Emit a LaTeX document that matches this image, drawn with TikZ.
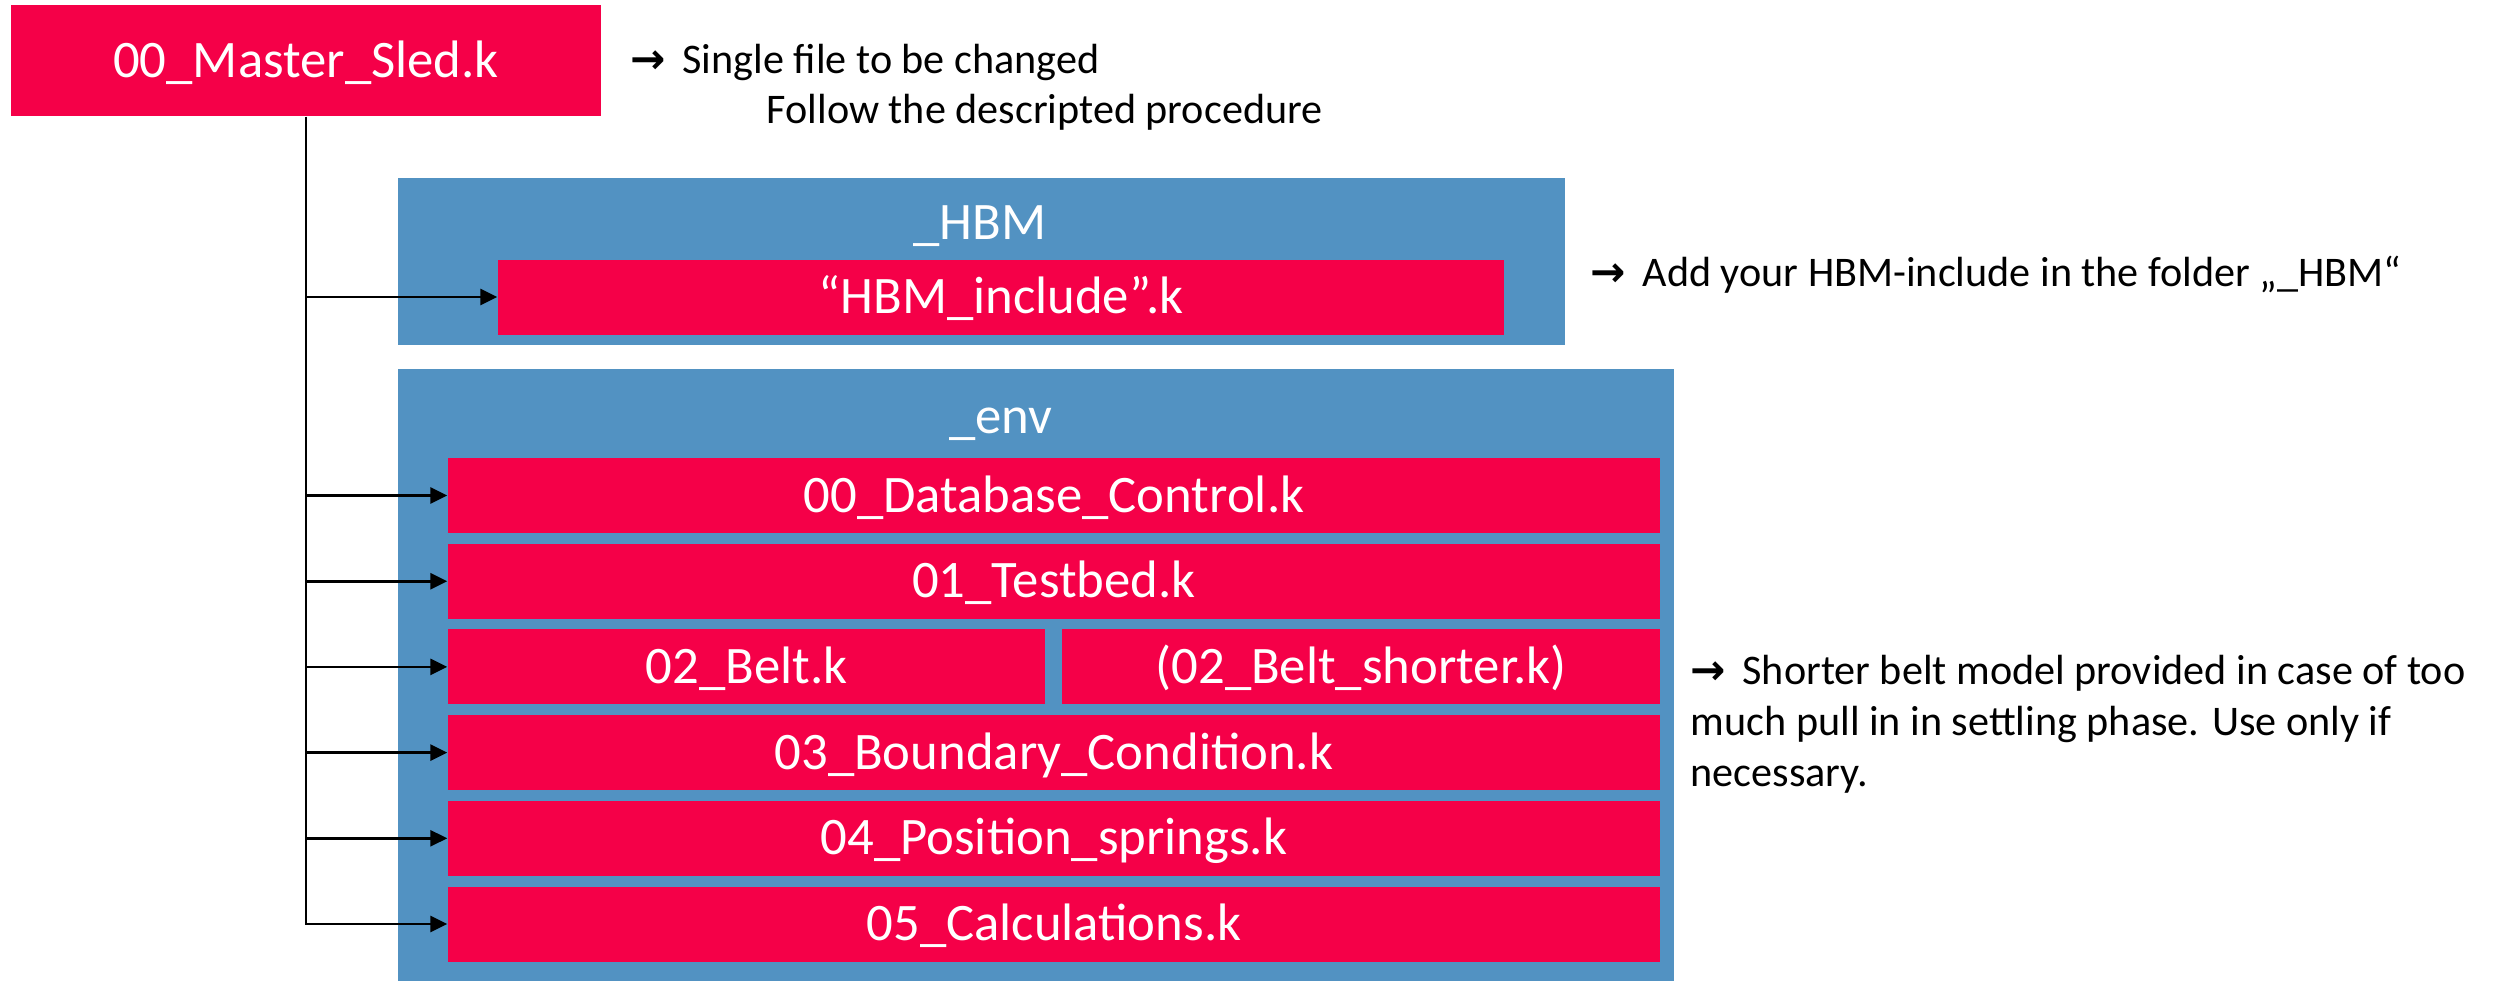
\documentclass[tikz,border=0pt]{standalone}
\usepackage{fontspec}
\setmainfont{Carlito}
\newfontfamily\arrowfont{DejaVu Sans}
\usetikzlibrary{arrows.meta,positioning}
\definecolor{sledred}{RGB}{245,0,72}
\definecolor{folderblue}{RGB}{82,146,194}

\begin{document}
\begin{tikzpicture}[
    >={Triangle[length=1.7mm,width=1.6mm]},
    folder/.style={
        fill=folderblue,
        inner sep=0pt,
    },
    file/.style={
        fill=sledred,
        text=white,
        inner sep=0pt,
        minimum height=0.75cm,
        text height=0.33cm,
        text depth=0pt,
        font=\fontsize{15}{18}\selectfont,
    },
    title/.style={
        text=white,
        inner sep=0pt,
        text height=0.33cm,
        text depth=0pt,
        font=\fontsize{15}{18}\selectfont,
    },
    note/.style={
        anchor=west,
        inner sep=0pt,
        align=left,
        font=\fontsize{12}{14.5}\selectfont,
    },
    link/.style={
        draw,
        line width=0.8pt,
        ->
    }
]
\useasboundingbox (0,0) rectangle (24.93,-9.81);

% =====================
% CARTELLE
% =====================
\node[folder, minimum width=11.67cm, minimum height=1.67cm] at (9.815,-2.615) (hbm) {};
\node[title] at (9.80,-2.23) (hbmtitle) {\_HBM};

\node[folder, minimum width=12.76cm, minimum height=6.12cm] at (10.36,-6.75) (env) {};
\node[title] at (10.01,-4.17) (envtitle) {\_env};

% =====================
% FILE
% =====================
\node[file, minimum width=5.90cm, minimum height=1.11cm] at (3.06,-0.605) (master) {00\_Master\_Sled.k};

\node[file, minimum width=10.06cm] at (10.01,-2.97) (hbminc) {“HBM\_include”.k};

\node[file, minimum width=12.12cm] at (10.54,-4.955) (r0) {00\_Database\_Control.k};
\node[file, minimum width=12.12cm] at (10.54,-5.812) (r1) {01\_Testbed.k};
\node[file, minimum width=5.97cm] at (7.465,-6.669) (r2) {02\_Belt.k};
\node[file, minimum width=5.98cm] at (13.61,-6.669) (r2b) {(02\_Belt\_shorter.k)};
\node[file, minimum width=12.12cm] at (10.54,-7.526) (r3) {03\_Boundary\_Condition.k};
\node[file, minimum width=12.12cm] at (10.54,-8.383) (r4) {04\_Position\_springs.k};
\node[file, minimum width=12.12cm] at (10.54,-9.24) (r5) {05\_Calculations.k};

% =====================
% COLLEGAMENTI
% =====================
\path[link] (master.south) |- (r5.west);
\foreach \f in {hbminc,r0,r1,r2,r3,r4}
    \path[link] (master.south |- \f.west) -- (\f.west);

% =====================
% NOTE
% =====================
\node[note] at (6.30,-0.62) (note1) {{\arrowfont\bfseries →}\, Single file to be changed};
\node[note] at (7.66,-1.12) (note1b) {Follow the descripted procedure};

\node[note] at (15.90,-2.75) (note2) {{\arrowfont\bfseries →}\, Add your HBM-include in the folder „\_HBM“};

\node[note] at (16.90,-7.24) (note3) {{\arrowfont\bfseries →}\, Shorter belt model provided in case of too\\much pull in in settling phase. Use only if\\necessary.};

\end{tikzpicture}
\end{document}
